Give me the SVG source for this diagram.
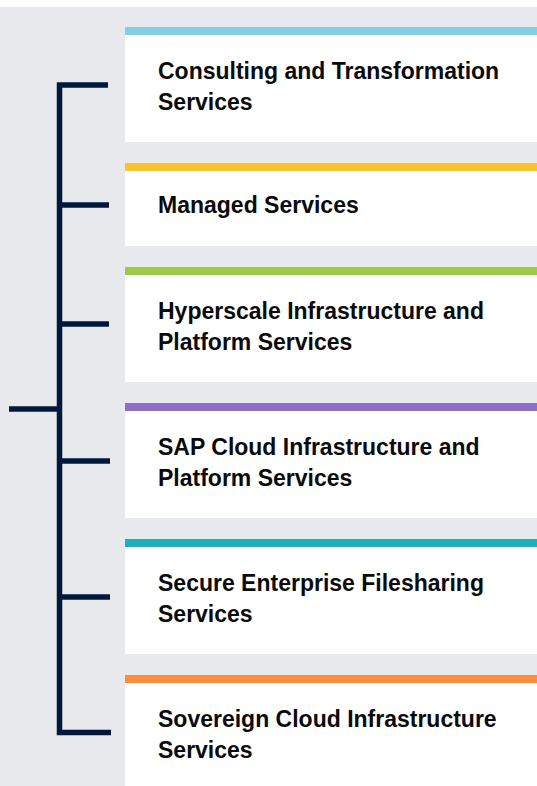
<svg xmlns="http://www.w3.org/2000/svg" width="537" height="786" viewBox="0 0 537 786">
<style>
.card{fill:#ffffff}
.lbl{font-family:"Liberation Sans",Arial,sans-serif;font-weight:bold;font-size:23px;fill:#0a0a0a}
.ln{stroke:#02183b;stroke-width:5.5;fill:none}
</style>
<rect x="0" y="0" width="537" height="786" fill="#ffffff"/>
<rect x="0" y="7" width="537" height="779" fill="#e8e9ed"/>
<g id="connectors">
<path class="ln" d="M108 85 H59.5 V732.5 H111"/>
<path class="ln" d="M9 409 H59.5"/>
<path class="ln" d="M59.5 205 H109"/>
<path class="ln" d="M59.5 324 H109"/>
<path class="ln" d="M59.5 461 H110"/>
<path class="ln" d="M59.5 597 H110"/>
</g>
<g id="n1">
<rect class="card" x="125" y="27" width="412" height="115"/>
<rect x="125" y="27" width="412" height="8" fill="#84cee6"/>
<text class="lbl" x="158" y="79">Consulting and Transformation</text>
<text class="lbl" x="158" y="110">Services</text>
</g>
<g id="n2">
<rect class="card" x="125" y="163" width="412" height="83"/>
<rect x="125" y="163" width="412" height="8" fill="#fdc130"/>
<text class="lbl" x="158" y="213">Managed Services</text>
</g>
<g id="n3">
<rect class="card" x="125" y="267" width="412" height="115"/>
<rect x="125" y="267" width="412" height="8" fill="#9ccb4a"/>
<text class="lbl" x="158" y="319">Hyperscale Infrastructure and</text>
<text class="lbl" x="158" y="350">Platform Services</text>
</g>
<g id="n4">
<rect class="card" x="125" y="403" width="412" height="115"/>
<rect x="125" y="403" width="412" height="8" fill="#8d6fca"/>
<text class="lbl" x="158" y="455">SAP Cloud Infrastructure and</text>
<text class="lbl" x="158" y="486">Platform Services</text>
</g>
<g id="n5">
<rect class="card" x="125" y="539" width="412" height="115"/>
<rect x="125" y="539" width="412" height="8" fill="#1fafba"/>
<text class="lbl" x="158" y="591">Secure Enterprise Filesharing</text>
<text class="lbl" x="158" y="622">Services</text>
</g>
<g id="n6">
<rect class="card" x="125" y="675" width="412" height="111"/>
<rect x="125" y="675" width="412" height="8" fill="#fd8c3c"/>
<text class="lbl" x="158" y="727">Sovereign Cloud Infrastructure</text>
<text class="lbl" x="158" y="758">Services</text>
</g>
</svg>
